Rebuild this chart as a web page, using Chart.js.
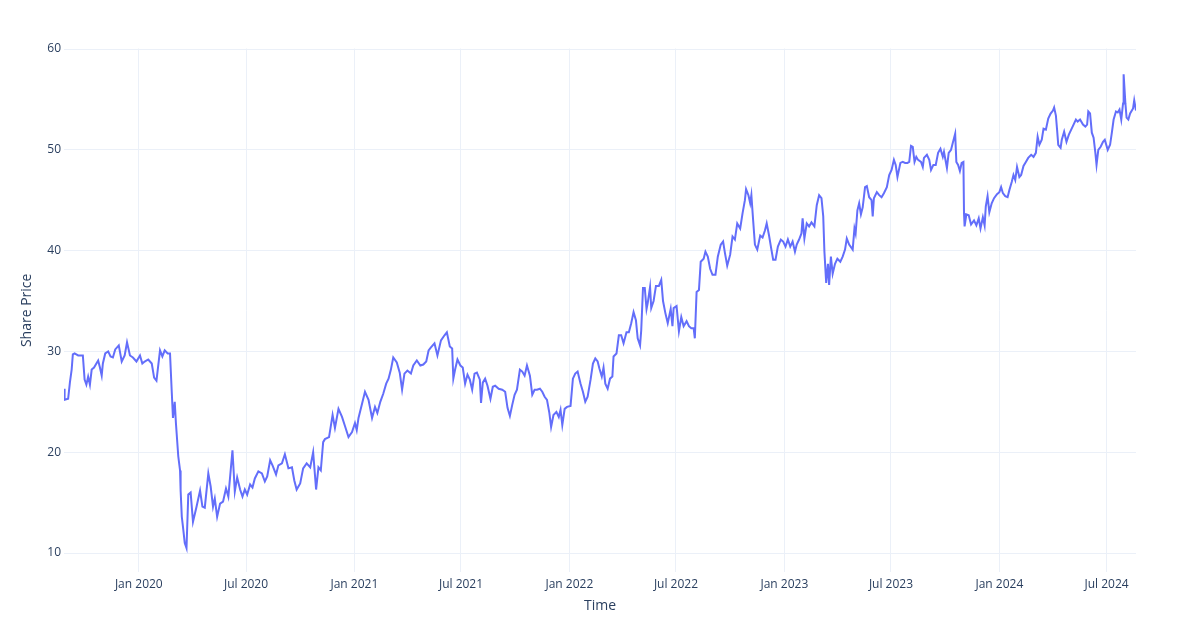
<!DOCTYPE html>
<html>
<head>
<meta charset="utf-8">
<script src="https://cdn.jsdelivr.net/npm/chart.js@4.4.1/dist/chart.umd.min.js"></script>
<style>
  html, body { margin: 0; padding: 0; background: #ffffff; }
  #wrap { width: 1200px; height: 640px; }
</style>
</head>
<body>
<div id="wrap"><canvas id="c" width="1200" height="640"></canvas></div>
<script>
const dates = [
"2019-08-27","2019-08-28","2019-09-03","2019-09-06","2019-09-09","2019-09-11","2019-09-14","2019-09-20","2019-09-28","2019-10-01",
"2019-10-04","2019-10-07","2019-10-10","2019-10-13","2019-10-17","2019-10-21","2019-10-24","2019-10-27","2019-10-30","2019-11-01",
"2019-11-05","2019-11-10","2019-11-14","2019-11-18","2019-11-22","2019-11-28","2019-12-03","2019-12-08","2019-12-12","2019-12-17",
"2019-12-22","2019-12-28","2020-01-03","2020-01-07","2020-01-11","2020-01-17","2020-01-23","2020-01-27","2020-01-31","2020-02-06",
"2020-02-10","2020-02-14","2020-02-19","2020-02-23","2020-02-26","2020-02-28","2020-03-02","2020-03-04","2020-03-08","2020-03-11",
"2020-03-12","2020-03-14","2020-03-16","2020-03-19","2020-03-22","2020-03-25","2020-03-29","2020-04-02","2020-04-08","2020-04-14",
"2020-04-18","2020-04-22","2020-04-28","2020-05-02","2020-05-06","2020-05-09","2020-05-13","2020-05-18","2020-05-23","2020-05-28",
"2020-06-01","2020-06-05","2020-06-08","2020-06-12","2020-06-16","2020-06-21","2020-06-25","2020-06-29","2020-07-03","2020-07-08",
"2020-07-12","2020-07-16","2020-07-22","2020-07-28","2020-08-02","2020-08-06","2020-08-11","2020-08-15","2020-08-21","2020-08-25",
"2020-08-31","2020-09-05","2020-09-11","2020-09-17","2020-09-21","2020-09-25","2020-10-01","2020-10-06","2020-10-12","2020-10-18",
"2020-10-23","2020-10-28","2020-11-01","2020-11-05","2020-11-09","2020-11-12","2020-11-19","2020-11-25","2020-11-29","2020-12-05",
"2020-12-11","2020-12-16","2020-12-22","2020-12-28","2021-01-02","2021-01-05","2021-01-08","2021-01-14","2021-01-19","2021-01-25",
"2021-01-31","2021-02-05","2021-02-09","2021-02-14","2021-02-19","2021-02-24","2021-02-28","2021-03-04","2021-03-08","2021-03-14",
"2021-03-19","2021-03-23","2021-03-27","2021-04-01","2021-04-07","2021-04-11","2021-04-17","2021-04-23","2021-04-28","2021-05-03",
"2021-05-07","2021-05-11","2021-05-17","2021-05-22","2021-05-28","2021-06-03","2021-06-07","2021-06-12","2021-06-16","2021-06-18",
"2021-06-21","2021-06-25","2021-06-30","2021-07-04","2021-07-08","2021-07-12","2021-07-16","2021-07-20","2021-07-24","2021-07-28",
"2021-08-02","2021-08-04","2021-08-07","2021-08-11","2021-08-15","2021-08-20","2021-08-24","2021-08-28","2021-09-03","2021-09-09",
"2021-09-14","2021-09-18","2021-09-22","2021-09-26","2021-09-30","2021-10-04","2021-10-09","2021-10-13","2021-10-17","2021-10-21",
"2021-10-26","2021-10-30","2021-11-03","2021-11-07","2021-11-12","2021-11-16","2021-11-20","2021-11-24","2021-11-28","2021-12-01",
"2021-12-05","2021-12-10","2021-12-14","2021-12-17","2021-12-20","2021-12-24","2021-12-28","2022-01-03","2022-01-07","2022-01-11",
"2022-01-15","2022-01-20","2022-01-24","2022-01-28","2022-02-01","2022-02-06","2022-02-10","2022-02-14","2022-02-18","2022-02-21",
"2022-02-25","2022-02-28","2022-03-03","2022-03-07","2022-03-11","2022-03-15","2022-03-17","2022-03-22","2022-03-26","2022-03-30",
"2022-04-03","2022-04-08","2022-04-12","2022-04-16","2022-04-20","2022-04-24","2022-04-27","2022-05-01","2022-05-03","2022-05-06",
"2022-05-09","2022-05-12","2022-05-14","2022-05-18","2022-05-20","2022-05-24","2022-05-28","2022-06-02","2022-06-06","2022-06-09",
"2022-06-13","2022-06-17","2022-06-22","2022-06-25","2022-06-27","2022-07-02","2022-07-06","2022-07-10","2022-07-14","2022-07-19",
"2022-07-23","2022-07-27","2022-07-31","2022-08-02","2022-08-05","2022-08-09","2022-08-12","2022-08-17","2022-08-20","2022-08-24",
"2022-08-28","2022-09-01","2022-09-06","2022-09-10","2022-09-15","2022-09-19","2022-09-22","2022-09-26","2022-10-01","2022-10-05",
"2022-10-09","2022-10-13","2022-10-18","2022-10-22","2022-10-26","2022-10-28","2022-11-01","2022-11-04","2022-11-06","2022-11-09",
"2022-11-12","2022-11-16","2022-11-21","2022-11-25","2022-11-29","2022-12-02","2022-12-06","2022-12-10","2022-12-13","2022-12-17",
"2022-12-21","2022-12-26","2022-12-30","2023-01-03","2023-01-07","2023-01-11","2023-01-15","2023-01-19","2023-01-22","2023-01-26",
"2023-01-30","2023-02-01","2023-02-04","2023-02-08","2023-02-12","2023-02-16","2023-02-21","2023-02-25","2023-03-01","2023-03-05",
"2023-03-08","2023-03-10","2023-03-13","2023-03-16","2023-03-18","2023-03-21","2023-03-24","2023-03-28","2023-04-01","2023-04-06",
"2023-04-10","2023-04-14","2023-04-17","2023-04-21","2023-04-27","2023-04-30","2023-05-02","2023-05-05","2023-05-08","2023-05-11",
"2023-05-14","2023-05-18","2023-05-21","2023-05-25","2023-05-29","2023-05-31","2023-06-02","2023-06-07","2023-06-11","2023-06-15",
"2023-06-19","2023-06-24","2023-06-28","2023-07-02","2023-07-06","2023-07-09","2023-07-12","2023-07-17","2023-07-21","2023-07-25",
"2023-07-29","2023-08-01","2023-08-04","2023-08-07","2023-08-10","2023-08-13","2023-08-16","2023-08-21","2023-08-24","2023-08-26",
"2023-08-31","2023-09-04","2023-09-07","2023-09-11","2023-09-15","2023-09-19","2023-09-23","2023-09-27","2023-09-29","2023-10-04",
"2023-10-07","2023-10-11","2023-10-14","2023-10-18","2023-10-20","2023-10-23","2023-10-26","2023-10-29","2023-11-01","2023-11-02",
"2023-11-03","2023-11-06","2023-11-10","2023-11-14","2023-11-19","2023-11-23","2023-11-27","2023-11-30","2023-12-04","2023-12-07",
"2023-12-09","2023-12-12","2023-12-15","2023-12-19","2023-12-23","2023-12-28","2024-01-01","2024-01-04","2024-01-07","2024-01-11",
"2024-01-15","2024-01-18","2024-01-22","2024-01-25","2024-01-28","2024-01-31","2024-02-04","2024-02-07","2024-02-11","2024-02-15",
"2024-02-19","2024-02-24","2024-02-28","2024-03-03","2024-03-06","2024-03-09","2024-03-13","2024-03-16","2024-03-20","2024-03-24",
"2024-03-28","2024-04-01","2024-04-03","2024-04-06","2024-04-08","2024-04-10","2024-04-14","2024-04-16","2024-04-20","2024-04-24",
"2024-04-28","2024-05-02","2024-05-06","2024-05-10","2024-05-13","2024-05-17","2024-05-22","2024-05-26","2024-05-29","2024-05-31",
"2024-06-03","2024-06-06","2024-06-09","2024-06-12","2024-06-14","2024-06-17","2024-06-21","2024-06-25","2024-06-28","2024-07-03",
"2024-07-07","2024-07-10","2024-07-13","2024-07-17","2024-07-20","2024-07-23","2024-07-26","2024-07-29","2024-07-30","2024-08-02",
"2024-08-04","2024-08-07","2024-08-10","2024-08-15","2024-08-17","2024-08-20"
];

const sharePrice = [
26.3,25.2,25.3,26.9,28.2,29.7,29.8,29.6,29.6,27.2,
26.7,27.5,26.7,28.2,28.4,28.8,29.1,28.4,27.6,28.8,
29.8,30.0,29.5,29.4,30.2,30.6,29.0,29.6,30.9,29.6,
29.4,29.0,29.6,28.8,29.0,29.2,28.8,27.4,27.1,30.1,
29.5,30.1,29.8,29.8,25.9,23.4,25.0,22.9,19.6,18.2,
16.2,13.6,12.6,11.0,10.5,15.8,16.0,13.1,14.6,16.2,
14.6,14.5,17.9,16.6,14.6,15.4,13.6,14.9,15.1,16.4,
15.6,18.2,20.2,16.1,17.5,16.3,15.6,16.3,15.8,16.8,
16.5,17.4,18.1,17.9,17.1,17.6,19.2,18.7,17.8,18.7,
18.9,19.8,18.4,18.5,17.2,16.3,16.9,18.4,18.9,18.5,
20.0,16.3,18.5,18.2,21.0,21.3,21.5,23.7,22.4,24.3,
23.5,22.6,21.5,22.0,22.9,22.2,23.4,24.8,26.0,25.2,
23.4,24.5,23.9,25.0,25.8,26.8,27.3,28.2,29.4,28.9,
27.9,26.2,27.8,28.1,27.8,28.6,29.1,28.6,28.7,29.0,
30.1,30.4,30.8,29.6,31.1,31.6,31.9,30.5,30.3,27.3,
28.2,29.2,28.6,28.4,26.8,27.7,27.2,26.2,27.8,27.9,
27.2,24.9,26.9,27.3,26.6,25.3,26.5,26.6,26.3,26.2,
26.0,24.4,23.6,24.7,25.7,26.2,28.2,28.0,27.6,28.6,
27.6,25.7,26.2,26.2,26.3,26.0,25.5,25.2,23.9,22.5,
23.7,24.0,23.5,24.2,22.7,24.3,24.5,24.6,27.3,27.8,
28.0,26.8,26.0,25.0,25.5,27.2,28.8,29.3,29.0,28.3,
27.5,28.4,26.8,26.3,27.3,27.5,29.5,29.8,31.6,31.6,
30.8,31.9,31.9,32.8,33.9,33.1,31.3,30.6,32.1,36.3,
36.3,34.2,34.8,36.4,34.3,35.0,36.5,36.5,37.1,35.0,
33.8,32.8,34.2,32.5,34.3,34.5,32.0,33.4,32.5,33.0,
32.5,32.3,32.3,31.3,35.9,36.1,38.9,39.2,39.9,39.4,
38.2,37.6,37.6,39.4,40.6,40.9,39.8,38.5,39.6,41.4,
41.1,42.7,42.2,43.7,45.0,46.1,45.5,44.7,45.5,43.0,
40.6,40.1,41.5,41.3,42.0,42.7,41.5,40.1,39.1,39.1,
40.4,41.1,40.9,40.4,41.1,40.4,40.9,39.9,40.6,41.1,
41.7,43.2,41.2,42.7,42.4,42.8,42.4,44.5,45.5,45.2,
43.4,39.9,36.8,38.7,36.6,39.4,37.7,38.7,39.2,38.9,
39.4,40.1,41.2,40.6,40.1,42.2,41.7,44.0,44.7,43.6,
44.3,46.3,46.4,45.3,45.0,43.4,45.2,45.8,45.5,45.3,
45.7,46.3,47.5,48.0,49.0,48.5,47.3,48.7,48.8,48.7,
48.7,48.8,50.4,50.3,48.8,49.3,49.0,48.8,48.3,49.2,
49.5,49.0,48.0,48.5,48.5,49.7,50.1,49.3,49.8,48.2,
49.7,50.0,50.7,51.6,48.8,48.5,47.9,48.7,48.8,43.7,
42.4,43.6,43.5,42.6,43.0,42.5,43.2,42.2,43.3,42.5,
44.4,45.4,43.8,44.7,45.2,45.6,45.8,46.3,45.7,45.4,
45.3,46.0,46.8,47.5,47.0,48.3,47.3,47.5,48.4,48.8,
49.2,49.5,49.3,49.7,51.3,50.5,51.0,52.1,52.0,53.1,
53.6,53.9,54.2,53.4,52.0,50.5,50.2,51.0,51.8,50.8,
51.5,52.0,52.5,53.0,52.8,53.0,52.5,52.3,52.5,53.8,
53.6,51.7,51.2,49.7,48.5,50.0,50.3,50.8,51.0,50.0,
50.5,51.7,53.0,53.8,53.7,54.0,53.0,54.6,57.5,54.6,
53.2,53.0,53.6,54.1,54.9,53.9
];

const xTickDates = ["2020-01-01","2020-07-01","2021-01-01","2021-07-01","2022-01-01","2022-07-01","2023-01-01","2023-07-01","2024-01-01","2024-07-01"];
const xTickLabels = ["Jan 2020","Jul 2020","Jan 2021","Jul 2021","Jan 2022","Jul 2022","Jan 2023","Jul 2023","Jan 2024","Jul 2024"];
const yTickValues = [10, 20, 30, 40, 50, 60];

const toMs = s => Date.parse(s + "T00:00:00Z");
const points = dates.map((d, i) => ({ x: toMs(d), y: sharePrice[i] }));
const xTickMs = xTickDates.map(toMs);

const textColor = "#2a3f5f";
const gridColor = "#EBF0F8";
const fontFamily = "'Open Sans', 'DejaVu Sans', Arial, sans-serif";

new Chart(document.getElementById("c"), {
  type: "line",
  data: {
    datasets: [{
      label: "Share Price",
      data: points,
      borderColor: "#636efa",
      borderWidth: 2,
      pointRadius: 0,
      tension: 0,
      fill: false
    }]
  },
  options: {
    responsive: false,
    animation: false,
    events: [],
    layout: { padding: { top: 48.5, right: 64, left: 0, bottom: 0 } },
    plugins: { legend: { display: false }, tooltip: { enabled: false } },
    scales: {
      x: {
        type: "linear",
        min: points[0].x,
        max: points[points.length - 1].x,
        afterFit: s => { s.height = 640 - 572.2; },
        afterBuildTicks: s => { s.ticks = xTickMs.map(v => ({ value: v })); },
        ticks: {
          autoSkip: false,
          maxRotation: 0,
          padding: 5,
          color: textColor,
          font: { family: fontFamily, size: 12 },
          callback: (v) => { const i = xTickMs.indexOf(v); return i >= 0 ? xTickLabels[i] : ""; }
        },
        grid: { color: gridColor, lineWidth: 1, drawTicks: false },
        border: { display: false },
        title: {
          display: true, text: "Time", color: textColor,
          font: { family: fontFamily, size: 14 },
          padding: { top: 0, bottom: 26 }
        }
      },
      y: {
        type: "linear",
        min: 8.1,
        max: 60.05,
        afterFit: s => { s.width = 64; },
        afterBuildTicks: s => { s.ticks = yTickValues.map(v => ({ value: v })); },
        ticks: {
          padding: 3,
          color: textColor,
          font: { family: fontFamily, size: 12 }
        },
        grid: { color: gridColor, lineWidth: 1, drawTicks: false },
        border: { display: false },
        title: {
          display: true, text: "Share Price", color: textColor,
          font: { family: fontFamily, size: 14 },
          padding: { top: 19, bottom: 0 }
        }
      }
    }
  }
});
</script>
</body>
</html>
